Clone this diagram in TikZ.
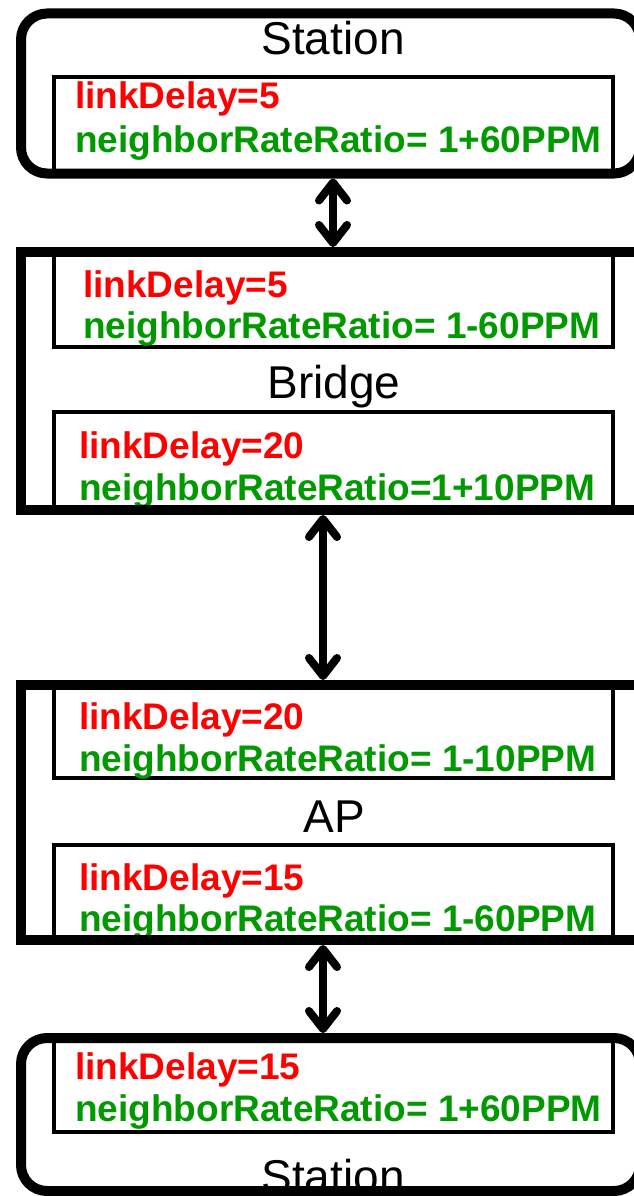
\documentclass[tikz,border=0pt]{standalone}
\usepackage{fontspec}
\setmainfont{Liberation Sans}
\usetikzlibrary{arrows.meta}
\definecolor{lred}{RGB}{255,0,0}
\definecolor{lgreen}{RGB}{0,153,0}
\begin{document}
\begin{tikzpicture}[x=1pt,y=-1pt,
  outerbox/.style={draw, line width=10pt, inner sep=0pt, minimum width=619pt},
  innerbox/.style={draw, line width=4pt, inner sep=0pt, minimum width=559pt},
  lbl/.style={font=\bfseries\fontsize{37}{40}\selectfont, anchor=base west, inner sep=0pt},
  delay/.style={lbl, text=lred},
  ratio/.style={lbl, text=lgreen},
  title/.style={font=\fontsize{46}{50}\selectfont, inner sep=0pt, anchor=base},
  arr/.style={line width=8pt, {Straight Barb[length=18pt,width=28pt,round]}-{Straight Barb[length=18pt,width=28pt,round]}}]
\useasboundingbox (0,0) rectangle (634,1196);
\clip (0,0) rectangle (634,1196);
% inner boxes
\node[innerbox, minimum height=96pt] (s1i) at (333.5,125) {};
\node[innerbox, minimum height=95pt] (bri1) at (333.5,299.5) {};
\node[innerbox, minimum height=98pt] (bri2) at (333.5,461) {};
\node[innerbox, minimum height=90pt] (api1) at (333.5,733) {};
\node[innerbox, minimum height=95pt] (api2) at (333.5,892.5) {};
\node[innerbox, minimum height=92pt] (s2i) at (333.5,1086) {};
% texts
\node[title] (t1) at (333,55) {Station};
\node[delay] (d1) at (75,109) {linkDelay=5};
\node[ratio] (r1) at (75,152) {neighborRateRatio= 1+60PPM};
\node[delay] (d2) at (83,297) {linkDelay=5};
\node[ratio] (r2) at (83,338) {neighborRateRatio= 1-60PPM};
\node[title] (t2) at (334,398) {Bridge};
\node[delay] (d3) at (79,458) {linkDelay=20};
\node[ratio] (r3) at (79,500) {neighborRateRatio=1+10PPM};
\node[delay] (d4) at (79,729) {linkDelay=20};
\node[ratio] (r4) at (79,771) {neighborRateRatio= 1-10PPM};
\node[title] (t3) at (334,832) {AP};
\node[delay] (d5) at (79,890) {linkDelay=15};
\node[ratio] (r5) at (79,931) {neighborRateRatio= 1-60PPM};
\node[delay] (d6) at (75,1079) {linkDelay=15};
\node[ratio] (r6) at (75,1121) {neighborRateRatio= 1+60PPM};
\node[title] (t4) at (333,1192) {Station};
% outer boxes
\node[outerbox, rounded corners=26pt, minimum height=160pt] (st1) at (330.5,93.5) {};
\node[outerbox, minimum height=258pt] (br) at (330.5,381) {};
\node[outerbox, minimum height=255pt] (ap) at (330.5,812.5) {};
\node[outerbox, rounded corners=26pt, minimum height=153pt] (st2) at (330.5,1114.5) {};
% arrows
\coordinate (ax1) at (333,0);
\coordinate (ax2) at (323,0);
\draw[arr] (st1.south -| ax1) -- (br.north -| ax1);
\draw[arr] (br.south -| ax2) -- (ap.north -| ax2);
\draw[arr] (ap.south -| ax2) -- (st2.north -| ax2);
\end{tikzpicture}
\end{document}
